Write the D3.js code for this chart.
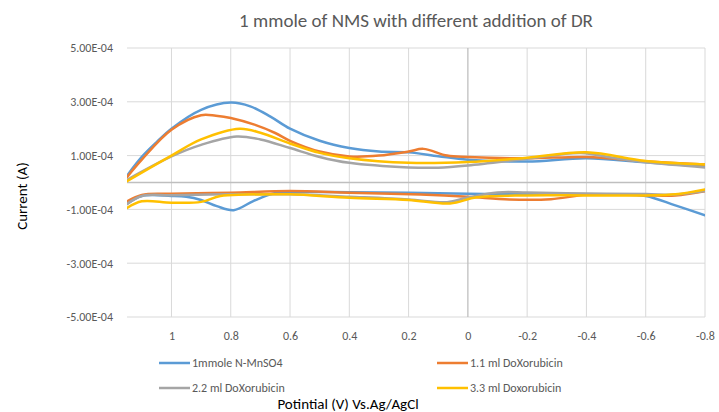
<!DOCTYPE html>
<html>
<head>
<meta charset="utf-8">
<script src="https://cdn.jsdelivr.net/npm/d3@7"></script>
<style>
  body { margin: 0; background: #fff; }
  text { font-family: Carlito, Lato, "Open Sans", sans-serif; fill: #595959; }
</style>
</head>
<body>
<div id="chart"></div>
<script>
var svgWidth = 719;
var svgHeight = 412;

var margin = { top: 48, right: 14, bottom: 95, left: 127 };
var width = svgWidth - margin.left - margin.right;
var height = svgHeight - margin.top - margin.bottom;

// potential (V), current (x1e-4 A)
var seriesNames = ["1mmole N-MnSO4", "1.1 ml DoXorubicin", "2.2 ml DoXorubicin", "3.3 ml Doxorubicin"];
var seriesColors = ["#5b9bd5", "#ed7d31", "#a5a5a5", "#ffc000"];

var blueUpper = [[1.15, 0.25], [1.1, 0.95], [1.05, 1.5], [1.0, 2.0], [0.9, 2.7], [0.8, 2.97], [0.734, 2.83], [0.666, 2.45],
  [0.6, 2.0], [0.5, 1.55], [0.4, 1.28], [0.3, 1.15], [0.2, 1.12], [0.1, 0.98], [0.0, 0.85], [-0.2, 0.78], [-0.4, 0.9],
  [-0.6, 0.75], [-0.8, 0.6]];
var blueLower = [[-0.8, -1.22], [-0.7, -0.85], [-0.6, -0.5], [-0.5, -0.45], [-0.4, -0.44], [-0.2, -0.43], [0.0, -0.42],
  [0.2, -0.38], [0.4, -0.36], [0.6, -0.36], [0.656, -0.41], [0.724, -0.69], [0.79, -1.03], [0.847, -0.88], [0.9, -0.65],
  [0.95, -0.53], [1.0, -0.5], [1.1, -0.5], [1.15, -0.8]];

var orangeUpper = [[1.15, 0.2], [1.1, 0.85], [1.0, 1.96], [0.9, 2.5], [0.85, 2.48], [0.8, 2.4], [0.72, 2.15], [0.65, 1.84],
  [0.6, 1.55], [0.5, 1.15], [0.4, 0.97], [0.3, 1.0], [0.2, 1.15], [0.15, 1.25], [0.07, 1.0], [0.0, 0.95], [-0.2, 0.9],
  [-0.4, 0.95], [-0.6, 0.79], [-0.8, 0.67]];
var orangeLower = [[-0.8, -0.32], [-0.7, -0.48], [-0.6, -0.47], [-0.4, -0.46], [-0.28, -0.62], [-0.14, -0.63], [0.0, -0.53],
  [0.16, -0.45], [0.4, -0.38], [0.6, -0.32], [0.8, -0.38], [1.0, -0.42], [1.1, -0.46], [1.15, -0.7]];

var grayUpper = [[1.15, 0.1], [1.0, 0.97], [0.9, 1.4], [0.78, 1.71], [0.7, 1.6], [0.6, 1.28], [0.5, 0.95], [0.4, 0.73],
  [0.2, 0.56], [0.1, 0.55], [0.0, 0.63], [-0.2, 0.88], [-0.38, 1.1], [-0.5, 0.9], [-0.6, 0.75], [-0.8, 0.56]];
var grayLower = [[-0.8, -0.32], [-0.7, -0.45], [-0.6, -0.43], [-0.4, -0.41], [-0.2, -0.37], [-0.1, -0.37], [0.0, -0.56],
  [0.07, -0.73], [0.2, -0.63], [0.4, -0.53], [0.6, -0.44], [0.8, -0.44], [1.0, -0.47], [1.1, -0.5], [1.15, -0.8]];

var yellowUpper = [[1.15, 0.05], [1.0, 1.0], [0.9, 1.6], [0.77, 2.0], [0.7, 1.85], [0.6, 1.45], [0.5, 1.1], [0.4, 0.9],
  [0.2, 0.73], [0.0, 0.76], [-0.2, 0.92], [-0.4, 1.12], [-0.6, 0.8], [-0.8, 0.67]];
var yellowLower = [[-0.8, -0.26], [-0.7, -0.44], [-0.6, -0.48], [-0.4, -0.48], [-0.2, -0.48], [-0.03, -0.55], [0.06, -0.78],
  [0.2, -0.65], [0.4, -0.57], [0.6, -0.44], [0.75, -0.45], [0.835, -0.5], [0.9, -0.72], [1.0, -0.75], [1.1, -0.7], [1.15, -0.95]];

var xTicks = [1, 0.8, 0.6, 0.4, 0.2, 0, -0.2, -0.4, -0.6, -0.8];
var yTicks = [5e-4, 3e-4, 1e-4, -1e-4, -3e-4, -5e-4];

var branches = [
  [blueUpper, blueLower], [orangeUpper, orangeLower], [grayUpper, grayLower], [yellowUpper, yellowLower]
];

function sci(v) {
  var e = v === 0 ? 0 : Math.floor(Math.log10(Math.abs(v)));
  var m = v / Math.pow(10, e);
  var es = (e < 0 ? "-" : "+") + String(Math.abs(e)).padStart(2, "0");
  return m.toFixed(2) + "E" + es;
}

var svg = d3.select("#chart")
  .append("svg")
  .attr("width", svgWidth)
  .attr("height", svgHeight);

var chartGroup = svg.append("g")
  .attr("transform", `translate(${margin.left}, ${margin.top})`);

var xScale = d3.scaleLinear().domain([1.15, -0.8]).range([0, width]);
var yScale = d3.scaleLinear().domain([-5e-4, 5e-4]).range([height, 0]);

// grid
chartGroup.selectAll(".hgrid")
  .data(yTicks)
  .enter()
  .append("line")
  .attr("x1", 0).attr("x2", width)
  .attr("y1", d => yScale(d)).attr("y2", d => yScale(d))
  .attr("stroke", "#d9d9d9").attr("stroke-width", 1);

chartGroup.selectAll(".vgrid")
  .data(xTicks)
  .enter()
  .append("line")
  .attr("x1", d => xScale(d)).attr("x2", d => xScale(d))
  .attr("y1", 0).attr("y2", height)
  .attr("stroke", d => d === 0 ? "#bfbfbf" : "#d9d9d9").attr("stroke-width", d => d === 0 ? 1.3 : 1);

chartGroup.append("line")
  .attr("x1", 0).attr("x2", width)
  .attr("y1", yScale(0)).attr("y2", yScale(0))
  .attr("stroke", "#bfbfbf").attr("stroke-width", 1.3);

// axis labels
var leftAxis = d3.axisLeft(yScale).tickValues(yTicks).tickFormat(sci).tickSize(0).tickPadding(14);
var yAxisG = chartGroup.append("g").call(leftAxis);
yAxisG.select(".domain").remove();
yAxisG.selectAll("text").attr("font-size", "12px").style("fill", "#595959")
  .style("font-family", "Carlito, Lato, 'Open Sans', sans-serif");

var bottomAxis = d3.axisBottom(xScale).tickValues(xTicks).tickFormat(d => String(d)).tickSize(0).tickPadding(14);
var xAxisG = chartGroup.append("g").attr("transform", `translate(0, ${height})`).call(bottomAxis);
xAxisG.select(".domain").remove();
xAxisG.selectAll("text").attr("font-size", "12px").style("fill", "#595959")
  .style("font-family", "Carlito, Lato, 'Open Sans', sans-serif");

// lines
svg.append("clipPath").attr("id", "plotClip")
  .append("rect").attr("x", 0).attr("y", 0).attr("width", width).attr("height", height);

var line = d3.line()
  .x(d => xScale(d[0]))
  .y(d => yScale(d[1] * 1e-4))
  .curve(d3.curveCatmullRom.alpha(0.5));

var linesGroup = chartGroup.append("g").attr("clip-path", "url(#plotClip)");
branches.forEach(function (pair, i) {
  pair.forEach(function (b) {
    linesGroup.append("path")
      .attr("d", line(b))
      .attr("fill", "none")
      .attr("stroke", seriesColors[i])
      .attr("stroke-width", 2.5)
      .attr("stroke-linejoin", "round")
      .attr("stroke-linecap", "round");
  });
});

// title
svg.append("text")
  .attr("x", 416).attr("y", 27)
  .attr("text-anchor", "middle")
  .attr("font-size", "19px")
  .style("font-weight", 300)
  .text("1 mmole of NMS with different addition of DR");

svg.append("text")
  .attr("transform", "rotate(-90)")
  .attr("x", -196).attr("y", 27)
  .attr("text-anchor", "middle")
  .attr("font-size", "15px")
  .style("fill", "#000")
  .style("font-weight", 300)
  .text("Current (A)");

svg.append("text")
  .attr("x", 348).attr("y", 409)
  .attr("text-anchor", "middle")
  .attr("font-size", "15px")
  .style("fill", "#000")
  .style("font-weight", 300)
  .text("Potintial (V) Vs.Ag/AgCl");

// legend
var legendPos = [[159, 363], [437, 363], [159, 388], [437, 388]];
var legend = svg.selectAll(".legendItem")
  .data(seriesNames)
  .enter()
  .append("g")
  .attr("transform", (d, i) => `translate(${legendPos[i][0]}, ${legendPos[i][1]})`);

legend.append("line")
  .attr("x1", 0).attr("x2", 31).attr("y1", 0).attr("y2", 0)
  .attr("stroke", (d, i) => seriesColors[i]).attr("stroke-width", 2.5);

legend.append("text")
  .attr("x", 33).attr("y", 4)
  .attr("font-size", "12px")
  .text(d => d);
</script>
</body>
</html>
